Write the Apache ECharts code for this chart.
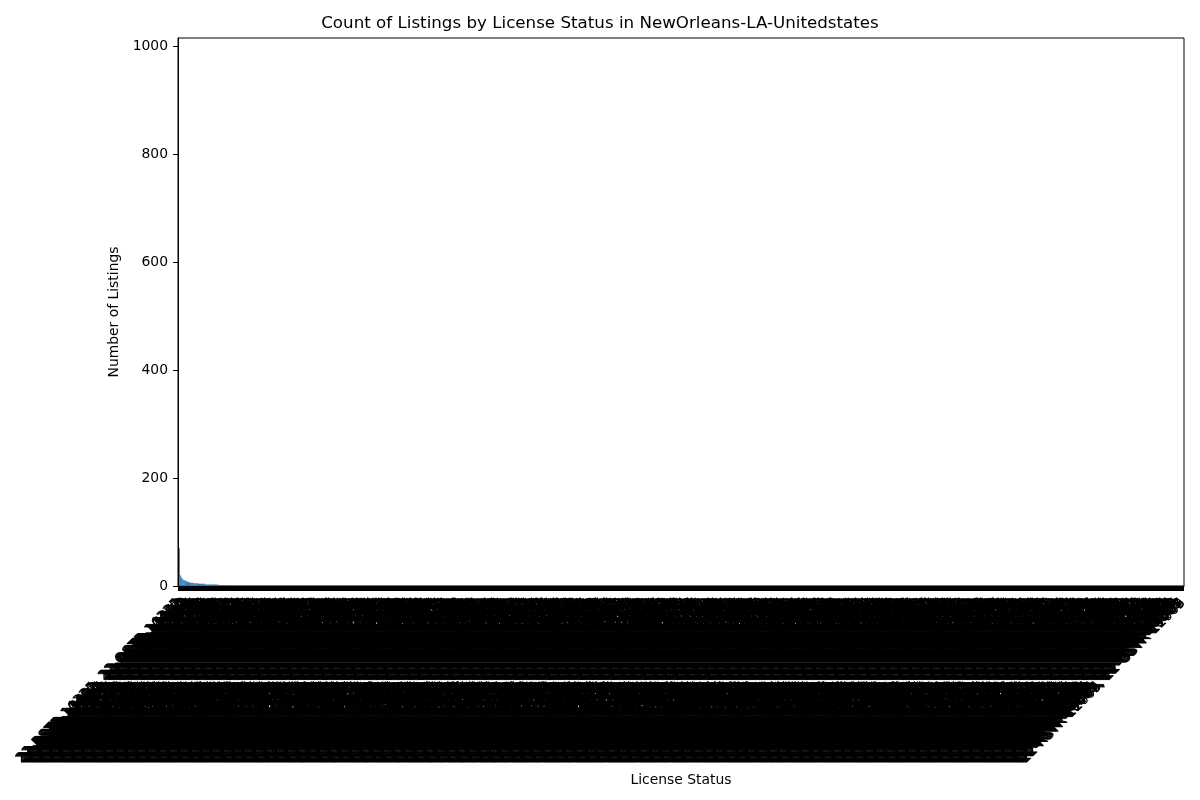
<!DOCTYPE html>
<html>
<head>
<meta charset="utf-8">
<script src="https://cdn.jsdelivr.net/npm/echarts@6.0.0/dist/echarts.min.js"></script>
<style>
html,body{margin:0;padding:0;background:#fff;}
#chart{width:1200px;height:800px;}
</style>
</head>
<body>
<div id="chart"></div>
<script>
// Licence numbers of the categories (labels are unreadable in the reference; estimated)
const licenseNumbers = [
14325,10482,17761,12093,15530,18874,11206,16649,13387,19012,
10735,15218,12864,17403,14096,11579,18320,13651,16987,10244,
19458,12710,15063,17829,11342,14588,16215,10917,18106,13472,
15847,11930,17284,13018,19566,10371,16432,12759,14803,18195,
11628,16074,13905,19237,10586,15391,12147,17662,14950,18413,
13264,18735,10829,15176,12581,17048,19390,11457,16803,14129,
17516,12338,14672,10093,18957,13781,15624,11065,19823,16290,
12906,16517,11384,18042,14235,10658,17397,13529,15968,19104,
16158,10947,19681,13306,11873,17225,12460,15087,18519,14742,
10318,14861,12275,16733,19049,11519,15802,18286,13140,17954,
18647,13093,16320,10762,14405,19178,12026,17839,11291,15673,
14019,17582,11847,15254,13660,18331,10214,16905,19747,12384,
11753,19316,14587,12101,17070,10433,15911,13845,18602,16127,
15402,12649,18183,16556,10871,14274,19935,11106,13418,17791,
19261,15735,10507,13982,16648,12823,11379,18460,14056,17213,
13897,11014,17426,19583,12247,15129,16791,10690,18318,14668,
16879,18240,12951,11435,15608,19702,13134,17357,10126,14490,
12137,14950,19003,17688,10399,13561,18827,15495,11782,16041,
18406,16369,13212,10954,19115,11840,14727,12568,17183,15326,
10561,13758,15889,18579,12434,17519,10046,16186,19470,11623,
17309,11267,14138,16402,18693,13025,12716,19859,15244,10805,
14836,19521,11502,12977,16095,18148,15762,10311,13693,17066,
11084,17874,16617,14401,13329,10227,19292,12895,18007,15550,
19628,14213,10688,15839,11960,16346,13577,17150,12022,18790,
15973,10139,18551,11216,17844,14907,12310,16463,19385,13744,
12592,16927,13440,19766,15015,11388,18659,10575,14184,17497,
18073,12485,17632,14519,10252,19827,11643,13956,16730,15108,
10933,15667,12159,18209,16871,13293,17914,14342,11525,19657,
16545,19089,14796,10428,13171,15480,12037,18864,17300,11950,
13616,11729,19413,17057,12862,10694,16269,15915,18441,14033,
17852,14570,11193,13701,19248,16620,10817,12376,15397,18928,
11475,18361,15328,16194,10039,12733,14605,19564,13062,17280,
14661,10256,17943,12498,18786,11011,19137,16852,14418,13205,
19901,13483,16061,15730,11668,17401,12569,10142,18694,15814,
12314,17177,10860,19372,14951,18525,13818,11264,16407,10998,
15589,11936,18794,14123,12650,16016,19741,17508,10361,13095,
18128,15261,13654,10603,17719,14489,11842,16935,12203,19317,
10476,19690,12016,16284,15443,13157,18252,14771,17926,11378,
16983,12751,14255,18037,10744,19508,15625,11491,13870,17642,
13338,16489,19167,11808,14530,10215,17073,18946,12627,15932,
19544,10652,15107,17916,13796,12471,16558,10094,14317,18231,
11199,14064,17360,12545,19078,15749,13487,18650,16122,10887,
17603,13916,11724,14992,16219,18475,10303,12846,19761,15267,
14248,18800,16433,10165,11557,13640,17285,15026,12714,19419,
10791,12228,19953,16675,18360,14097,11835,17412,13159,16581,
18924,17341,10410,13528,15763,11273,19086,14648,10022,12395,
12469,15806,18317,19644,10987,16741,13371,11513,17870,14209,
15130,11467,13846,12089,17547,19230,15403,16018,18692,10736,
13971,19128,12593,15315,14876,10549,18043,12930,11604,17185,
16712,10883,17006,18498,13260,12117,14539,19377,15844,11056,
11340,16295,14721,10578,19819,17661,12208,13414,18136,15993,
19075,14402,11923,17770,12655,15180,16853,10269,13734,18561,
14586,12863,18159,11304,16046,13997,10692,15551,19289,17428,
10124,17937,15269,14810,18583,11746,12438,19013,16365,13679,
17260,13579,10840,16193,11007,18850,14978,12577,15436,19743,
12048,18716,16501,13092,15947,10325,17694,14230,11881,16870,
18390,11625,13217,19536,14164,16788,12961,10487,17563,15099,
15721,14366,19485,12760,10133,15304,18008,13641,16222,11449,
13105,10253,12654,17089,18814,14427,11561,19179,12805,16334,
16547,19803,11178,14969,13392,17215,15650,18761,10584,12927,
10868,15481,17742,11023,16606,19359,13863,12184,14715,18096,
19213,12038,14390,18655,10747,13291,16139,17904,15522,11766,
11573,16942,18806,15278,12490,10659,19620,14043,17361,13208,
14754,13316,10957,19425,17801,11182,12566,16697,18239,15879,
17946,18173,15834,10291,13615,14928,11043,19762,12377,16508,
12611,11794,13068,16350,19187,18462,17930,10218,15705,14341,
15367,19590,16275,13741,11458,12802,14114,18383,10966,17649,
18520,14858,12339,17124,15992,16084,10427,11606,13853,19271,
10203,17402,19958,14562,16827,15146,18691,13309,12784,11917,
13492,10635,11820,18906,14034,17589,12253,15470,19149,16711,
16085,13227,17666,12395,18412,10876,15937,19524,11048,14603,
19337,16548,14229,15700,10581,12964,11315,17028,18247,13186,
11926,18003,10774,16813,12169,19471,13548,14681,15392,17875,
14159,11689,16351,10412,17935,13702,18876,12118,19621,15246,
17798,15162,13503,19049,16290,14419,10657,18922,12335,11584,
12342,19715,18441,11267,14886,16939,15508,10173,13724,18057,
15675,12410,11196,13850,19503,18017,14263,16759,17342,10936,
18808,10944,15627,17482,13041,11755,19116,14391,16078,12599,
10457,14283,12892,18645,15768,17306,11470,13029,18194,19860,
13780,17559,19275,14109,11624,10898,16413,15687,12940,14336,
16911,18892,13966,12057,10775,15520,17635,19248,14801,11403,
19148,11369,17530,16186,12603,14051,10932,18715,13457,15877,
11601,15020,14197,10326,18939,19682,12777,16404,15139,17915,
14492,12748,10815,19562,17417,16361,13986,11253,18670,10548,
17123,16407,18359,13794,15286,11630,14515,19007,10871,12264,
12877,19231,15692,18013,14549,10180,16826,13362,17705,19396,
15256,13874,11049,14660,16983,18734,10399,17520,12152,18823,
18685,10511,16725,11339,19861,13478,15043,12690,14277,16096,
10986,17663,12184,15817,11475,17236,19591,14828,13610,15359,
13219,14845,19763,10438,12926,15093,11807,18267,16544,17682,
16450,11978,14337,17265,10140,18804,13616,15931,19427,12413,
19581,18126,10469,12902,13683,16578,17049,11774,14356,15205,
11832,13390,17815,19171,15412,12261,14986,10607,16291,18948,
14003,16669,12524,15368,18721,19947,10338,13190,11577,17060,
17376,12495,18983,10850,16214,11107,15749,19632,18415,13823,
12785,15936,16157,14471,19002,17786,11398,10519,13064,16648,
15504,10213,13740,18630,11851,14352,19507,16836,12249,17910,
18167,17449,11295,13526,14608,10061,12883,15377,19234,16425,
10649,14912,15586,11703,17327,13140,18092,12468,16771,19560,
13565,19386,10932,16048,12735,18519,15201,17843,11016,14687,
16307,11584,18261,12819,15673,14739,10478,19120,13935,17296,
19874,16031,12377,17598,10296,15862,13449,11927,18565,14102,
11268,12624,19709,15140,13814,10905,17176,16358,14990,18439,
14915,18047,16582,10735,19469,12389,11653,13272,17804,15716,
17742,13501,14016,19286,11129,16974,18331,10662,12597,15453,
12156,10780,17937,13648,16422,19085,14254,18716,15391,11830,
15893,17316,11475,14027,18605,13194,12770,16539,10247,19671,
18439,14663,15108,11892,12371,17758,19946,10314,16085,13527,
10562,19209,13884,16751,14147,11416,15623,12904,18378,17035,
13690,15457,10229,18174,17561,14891,16313,19467,11749,12065
];

// Number of listings per licence status, sorted descending
const listingCounts = [
966,70,20,16,14,12,11,10,10,9,
8,7,7,6,6,6,6,5,5,5,
5,5,4,4,4,4,4,4,4,4,
3,3,3,3,3,3,3,3,3,3,
3,3,3,3,2,2,2,2,2,2,
2,2,2,2,2,2,1,1,1,1,
1,1,1,1,1,1,1,1,1,1, 1,1,1,1,1,1,1,1,1,1, 1,1,1,1,1,1,1,1,1,1, 1,1,1,1,1,1,1,1,1,1,
1,1,1,1,1,1,1,1,1,1, 1,1,1,1,1,1,1,1,1,1, 1,1,1,1,1,1,1,1,1,1, 1,1,1,1,1,1,1,1,1,1,
1,1,1,1,1,1,1,1,1,1, 1,1,1,1,1,1,1,1,1,1, 1,1,1,1,1,1,1,1,1,1, 1,1,1,1,1,1,1,1,1,1,
1,1,1,1,1,1,1,1,1,1, 1,1,1,1,1,1,1,1,1,1, 1,1,1,1,1,1,1,1,1,1, 1,1,1,1,1,1,1,1,1,1,
1,1,1,1,1,1,1,1,1,1, 1,1,1,1,1,1,1,1,1,1, 1,1,1,1,1,1,1,1,1,1, 1,1,1,1,1,1,1,1,1,1,
1,1,1,1,1,1,1,1,1,1, 1,1,1,1,1,1,1,1,1,1, 1,1,1,1,1,1,1,1,1,1, 1,1,1,1,1,1,1,1,1,1,
1,1,1,1,1,1,1,1,1,1, 1,1,1,1,1,1,1,1,1,1, 1,1,1,1,1,1,1,1,1,1, 1,1,1,1,1,1,1,1,1,1,
1,1,1,1,1,1,1,1,1,1, 1,1,1,1,1,1,1,1,1,1, 1,1,1,1,1,1,1,1,1,1, 1,1,1,1,1,1,1,1,1,1,
1,1,1,1,1,1,1,1,1,1, 1,1,1,1,1,1,1,1,1,1, 1,1,1,1,1,1,1,1,1,1, 1,1,1,1,1,1,1,1,1,1,
1,1,1,1,1,1,1,1,1,1, 1,1,1,1,1,1,1,1,1,1, 1,1,1,1,1,1,1,1,1,1, 1,1,1,1,1,1,1,1,1,1,
1,1,1,1,1,1,1,1,1,1, 1,1,1,1,1,1,1,1,1,1, 1,1,1,1,1,1,1,1,1,1, 1,1,1,1,1,1,1,1,1,1,
1,1,1,1,1,1,1,1,1,1, 1,1,1,1,1,1,1,1,1,1, 1,1,1,1,1,1,1,1,1,1, 1,1,1,1,1,1,1,1,1,1,
1,1,1,1,1,1,1,1,1,1, 1,1,1,1,1,1,1,1,1,1, 1,1,1,1,1,1,1,1,1,1, 1,1,1,1,1,1,1,1,1,1,
1,1,1,1,1,1,1,1,1,1, 1,1,1,1,1,1,1,1,1,1, 1,1,1,1,1,1,1,1,1,1, 1,1,1,1,1,1,1,1,1,1,
1,1,1,1,1,1,1,1,1,1, 1,1,1,1,1,1,1,1,1,1, 1,1,1,1,1,1,1,1,1,1, 1,1,1,1,1,1,1,1,1,1,
1,1,1,1,1,1,1,1,1,1, 1,1,1,1,1,1,1,1,1,1, 1,1,1,1,1,1,1,1,1,1, 1,1,1,1,1,1,1,1,1,1,
1,1,1,1,1,1,1,1,1,1, 1,1,1,1,1,1,1,1,1,1, 1,1,1,1,1,1,1,1,1,1, 1,1,1,1,1,1,1,1,1,1,
1,1,1,1,1,1,1,1,1,1, 1,1,1,1,1,1,1,1,1,1, 1,1,1,1,1,1,1,1,1,1, 1,1,1,1,1,1,1,1,1,1,
1,1,1,1,1,1,1,1,1,1, 1,1,1,1,1,1,1,1,1,1, 1,1,1,1,1,1,1,1,1,1, 1,1,1,1,1,1,1,1,1,1,
1,1,1,1,1,1,1,1,1,1, 1,1,1,1,1,1,1,1,1,1, 1,1,1,1,1,1,1,1,1,1, 1,1,1,1,1,1,1,1,1,1,
1,1,1,1,1,1,1,1,1,1, 1,1,1,1,1,1,1,1,1,1, 1,1,1,1,1,1,1,1,1,1, 1,1,1,1,1,1,1,1,1,1,
1,1,1,1,1,1,1,1,1,1, 1,1,1,1,1,1,1,1,1,1, 1,1,1,1,1,1,1,1,1,1, 1,1,1,1,1,1,1,1,1,1,
1,1,1,1,1,1,1,1,1,1, 1,1,1,1,1,1,1,1,1,1, 1,1,1,1,1,1,1,1,1,1, 1,1,1,1,1,1,1,1,1,1,
1,1,1,1,1,1,1,1,1,1, 1,1,1,1,1,1,1,1,1,1, 1,1,1,1,1,1,1,1,1,1, 1,1,1,1,1,1,1,1,1,1,
1,1,1,1,1,1,1,1,1,1, 1,1,1,1,1,1,1,1,1,1, 1,1,1,1,1,1,1,1,1,1, 1,1,1,1,1,1,1,1,1,1,
1,1,1,1,1,1,1,1,1,1, 1,1,1,1,1,1,1,1,1,1, 1,1,1,1,1,1,1,1,1,1, 1,1,1,1,1,1,1,1,1,1,
1,1,1,1,1,1,1,1,1,1, 1,1,1,1,1,1,1,1,1,1, 1,1,1,1,1,1,1,1,1,1, 1,1,1,1,1,1,1,1,1,1
];

const yTicks = [0, 200, 400, 600, 800, 1000];
const licenseYear = '22';
const categories = licenseNumbers.map(n => `${licenseYear}-RSTR-${n}, ${licenseYear}-OSTR-${n}`);

const FONT = 'DejaVu Sans';
const chart = echarts.init(document.getElementById('chart'), null, {renderer: 'canvas'});
chart.setOption({
  animation: false,
  backgroundColor: '#ffffff',
  title: {
    text: 'Count of Listings by License Status in NewOrleans-LA-Unitedstates',
    left: 'center',
    top: 0,
    padding: [15, 0, 0, 162],
    textStyle: {fontFamily: FONT, fontSize: 16.7, fontWeight: 'normal', color: '#000'}
  },
  grid: {
    left: 178, right: 16, top: 38, bottom: 214,
    show: true, borderColor: '#000', borderWidth: 1,
    containLabel: false, outerBoundsMode: 'none'
  },
  xAxis: {
    type: 'category',
    data: categories,
    z: 3,
    name: 'License Status',
    nameLocation: 'middle',
    nameGap: 184,
    nameTextStyle: {fontFamily: FONT, fontSize: 13.9, color: '#000'},
    axisLine: {show: true, lineStyle: {color: '#000', width: 1}},
    axisTick: {show: true, alignWithLabel: true, interval: 0, length: 5, lineStyle: {color: '#000', width: 1}},
    axisLabel: {interval: 0, rotate: 45, margin: 15, color: '#000', fontFamily: FONT, fontSize: 13.9, hideOverlap: false},
    splitLine: {show: false}
  },
  yAxis: {
    type: 'value',
    min: 0,
    max: 1014.8,
    interval: 200,
    z: 3,
    name: 'Number of Listings',
    nameLocation: 'middle',
    nameGap: 52,
    nameTextStyle: {fontFamily: FONT, fontSize: 13.9, color: '#000'},
    axisLine: {show: true, lineStyle: {color: '#000', width: 1}},
    axisTick: {show: true, length: 5, lineStyle: {color: '#000', width: 1}, customValues: yTicks},
    axisLabel: {
      color: '#000', fontFamily: FONT, fontSize: 13.9, margin: 10,
      customValues: yTicks,
      formatter: v => (yTicks.indexOf(v) >= 0 ? String(v) : '')
    },
    splitLine: {show: false}
  },
  series: [{
    type: 'bar',
    data: listingCounts,
    barWidth: '50%',
    itemStyle: {color: '#1f77b4'},
    z: 2
  }]
});
</script>
</body>
</html>
